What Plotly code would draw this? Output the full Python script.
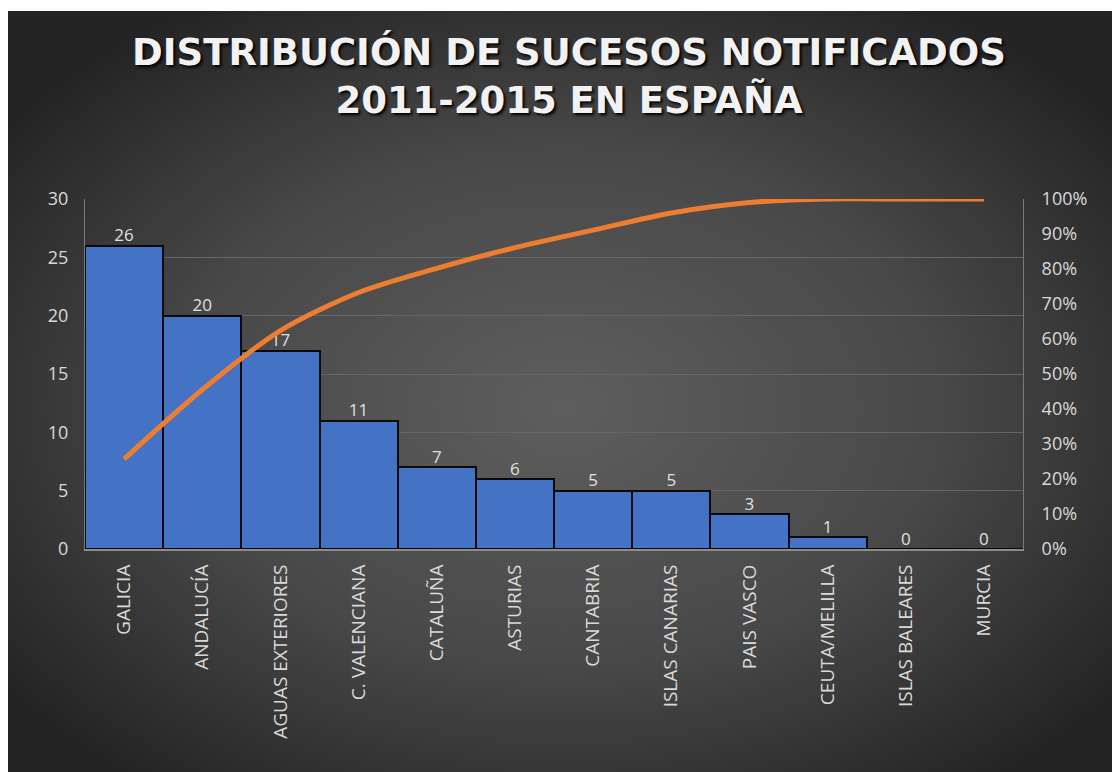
import base64
import plotly.graph_objects as go

categories = ["GALICIA", "ANDALUCÍA", "AGUAS EXTERIORES", "C. VALENCIANA", "CATALUÑA",
              "ASTURIAS", "CANTABRIA", "ISLAS CANARIAS", "PAIS VASCO", "CEUTA/MELILLA",
              "ISLAS BALEARES", "MURCIA"]
counts = [26, 20, 17, 11, 7, 6, 5, 5, 3, 1, 0, 0]
cumulative_pct = [25.7, 45.5, 62.4, 73.3, 80.2, 86.1, 91.1, 96.0, 99.0, 100, 100, 100]
left_ticks = [0, 5, 10, 15, 20, 25, 30]
right_ticks = [0, 10, 20, 30, 40, 50, 60, 70, 80, 90, 100]
right_ticktext = [f"{v}%" for v in right_ticks]

W, H = 1112, 764
L, R, T, B = 77, 97, 191, 223
pw, ph = W - L - R, H - T - B

svg = '''<svg xmlns="http://www.w3.org/2000/svg" width="1112" height="761" viewBox="0 0 1112 761" preserveAspectRatio="none">
<defs><radialGradient id="g" cx="50%" cy="52%" r="62%">
<stop offset="0" stop-color="#5e5e5e"/><stop offset="0.55" stop-color="#484848"/><stop offset="1" stop-color="#242424"/>
</radialGradient></defs>
<rect width="1112" height="761" fill="url(#g)"/></svg>'''
src = "data:image/svg+xml;base64," + base64.b64encode(svg.encode()).decode()

x0p = (0 - L) / pw
sx = W / pw
y0p = (H - B - 3) / ph
sy = (H - 3) / ph

fnt = "Open Sans, sans-serif"

fig = go.Figure()
fig.add_trace(go.Bar(
    x=categories, y=counts, width=1.0,
    marker=dict(color="#4472C4", line=dict(color="#0a0a0a", width=2)),
    yaxis="y", showlegend=False, hoverinfo="x+y",
))
fig.add_trace(go.Scatter(
    x=categories, y=cumulative_pct, mode="lines",
    line=dict(color="#ED7D31", width=5, shape="spline", smoothing=0.8),
    yaxis="y2", showlegend=False,
))
fig.add_trace(go.Scatter(
    x=categories, y=counts, mode="text", text=[str(c) for c in counts],
    textposition="top center",
    textfont=dict(family=fnt, size=17, color="#e0e0e0"),
    cliponaxis=False, yaxis="y", showlegend=False, hoverinfo="skip",
))

fig.update_layout(
    width=W, height=H,
    margin=dict(l=L, r=R, t=T, b=B),
    paper_bgcolor="white", plot_bgcolor="rgba(0,0,0,0)",
    images=[dict(source=src, xref="paper", yref="paper", x=x0p, y=y0p,
                 sizex=sx, sizey=sy, sizing="stretch", layer="below",
                 xanchor="left", yanchor="top")],
    title=dict(text="DISTRIBUCIÓN DE SUCESOS NOTIFICADOS<br>2011-2015 EN ESPAÑA",
               x=561 / W, xanchor="center", y=1 - 57 / H, yanchor="middle",
               font=dict(family="DejaVu Sans, sans-serif", size=37, color="#f2f2f2",
                         weight="bold", shadow="2px 2px 3px #000")),
    bargap=0,
    xaxis=dict(tickangle=-90, tickfont=dict(family=fnt, size=19, color="#d9d9d9"),
               showgrid=False, showline=True, linecolor="#8c8c8c", linewidth=2,
               ticks="", ticklabelstandoff=6, range=[-0.5, 11.5]),
    yaxis=dict(range=[0, 30], tickvals=left_ticks,
               tickfont=dict(family=fnt, size=18, color="#d9d9d9"),
               showgrid=True, gridcolor="#666666", gridwidth=1,
               showline=True, linecolor="#7a7a7a", linewidth=1, ticks="",
               ticklabelstandoff=12, zeroline=False),
    yaxis2=dict(range=[0, 100], overlaying="y", side="right", tickvals=right_ticks,
                ticktext=right_ticktext,
                tickfont=dict(family=fnt, size=18, color="#d9d9d9"),
                showgrid=False, showline=True, linecolor="#7a7a7a", linewidth=1,
                ticks="", ticklabelstandoff=14, zeroline=False),
)

fig.write_html("out.html")
